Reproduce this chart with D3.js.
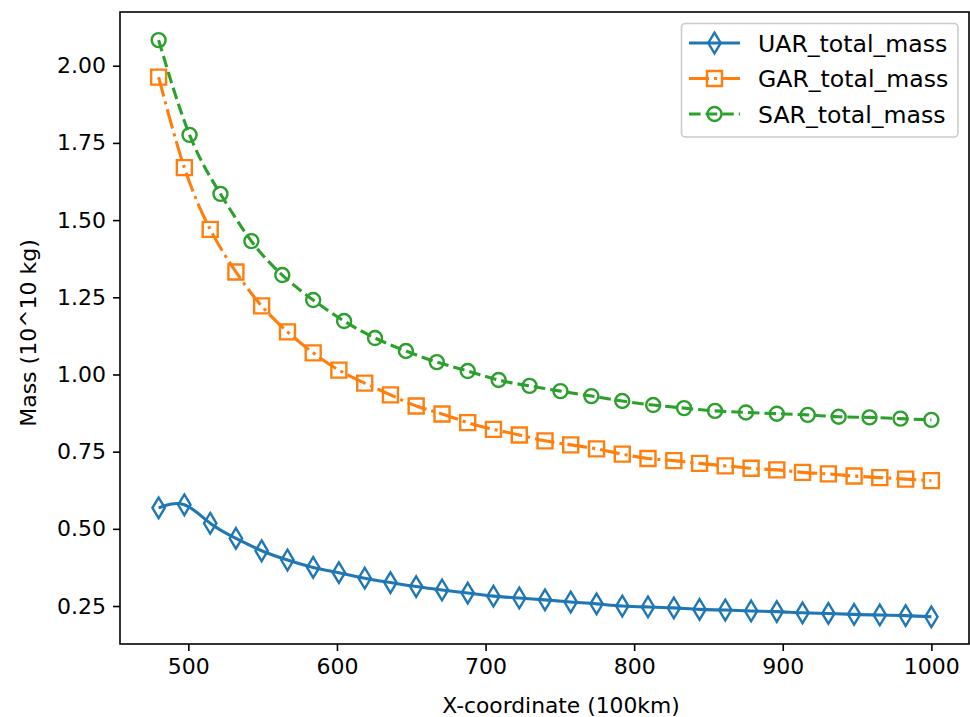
<!DOCTYPE html>
<html>
<head>
<meta charset="utf-8">
<script src="https://cdn.jsdelivr.net/npm/d3@7"></script>
<style>
  html, body { margin: 0; padding: 0; background: #fff; }
  svg { display: block; }
  text { font-family: "DejaVu Sans", sans-serif; fill: #000; }
</style>
</head>
<body>
<svg id="chart" width="970" height="717"></svg>
<script>
// ---- data ----
const xUG = [480, 497.3, 514.7, 532, 549.3, 566.7, 584, 601.3, 618.7, 636, 653.3, 670.7, 688, 705.3, 722.7, 740,
             757.3, 774.7, 792, 809.3, 826.7, 844, 861.3, 878.7, 896, 913.3, 930.7, 948, 965.3, 982.7, 1000];
const xS = [480, 500.8, 521.6, 542.4, 563.2, 584, 604.8, 625.6, 646.4, 667.2, 688, 708.8, 729.6, 750.4, 771.2, 792,
            812.8, 833.6, 854.4, 875.2, 896, 916.8, 937.6, 958.4, 979.2, 1000];
const uarMass = [0.568, 0.578, 0.518, 0.469, 0.429, 0.399, 0.375, 0.358, 0.340, 0.326, 0.313, 0.302, 0.292, 0.282,
                 0.276, 0.270, 0.263, 0.257, 0.250, 0.247, 0.244, 0.239, 0.237, 0.234, 0.232, 0.228, 0.226, 0.223,
                 0.221, 0.219, 0.215];
const garMass = [1.963, 1.670, 1.470, 1.332, 1.222, 1.138, 1.070, 1.014, 0.972, 0.934, 0.898, 0.872, 0.844, 0.822,
                 0.804, 0.785, 0.772, 0.759, 0.742, 0.728, 0.721, 0.712, 0.704, 0.696, 0.691, 0.683, 0.678, 0.671,
                 0.666, 0.661, 0.656];
const sarMass = [2.083, 1.776, 1.585, 1.432, 1.322, 1.241, 1.173, 1.118, 1.076, 1.040, 1.011, 0.982, 0.963, 0.946,
                 0.930, 0.914, 0.901, 0.891, 0.882, 0.877, 0.873, 0.869, 0.863, 0.861, 0.857, 0.853];
const seriesNames = ["UAR_total_mass", "GAR_total_mass", "SAR_total_mass"];
const xTicks = [500, 600, 700, 800, 900, 1000];
const yTicks = [0.25, 0.50, 0.75, 1.00, 1.25, 1.50, 1.75, 2.00];
const xLabel = "X-coordinate (100km)";
const yLabel = "Mass (10^10 kg)";

// ---- layout ----
const L = 120, R = 970, T = 12, B = 644;
const svg = d3.select("#chart");
const x = d3.scaleLinear().domain([454, 1026]).range([L, R]);
const y = d3.scaleLinear().domain([0.127, 2.174]).range([B, T]);

const colors = ["#1f77b4", "#ff7f0e", "#2ca02c"];
const dashes = [null, "20,5,3.1,5", "11.6,5"];
const lw = 3.1;
const mw = 2.4;

const series = [
  { name: seriesNames[0], xs: xUG, ys: uarMass, color: colors[0], dash: dashes[0], marker: "diamond" },
  { name: seriesNames[1], xs: xUG, ys: garMass, color: colors[1], dash: dashes[1], marker: "square" },
  { name: seriesNames[2], xs: xS, ys: sarMass, color: colors[2], dash: dashes[2], marker: "circle" }
];

function markerPath(type) {
  if (type === "diamond") return "M0,-10.3L6.2,0L0,10.3L-6.2,0Z";
  if (type === "square") return "M-7.5,-7.5L7.5,-7.5L7.5,7.5L-7.5,7.5Z";
  const p = d3.path(); p.arc(0, 0, 7, 0, 2 * Math.PI); p.closePath(); return p.toString();
}

svg.append("defs").append("clipPath").attr("id", "clip")
  .append("rect").attr("x", L).attr("y", T).attr("width", R - L).attr("height", B - T);

const line = d3.line().curve(d3.curveNatural);
const plot = svg.append("g").attr("clip-path", "url(#clip)");

series.forEach(s => {
  const pts = s.xs.map((xv, i) => [x(xv), y(s.ys[i])]);
  plot.append("path")
    .attr("d", line(pts))
    .attr("fill", "none")
    .attr("stroke", s.color)
    .attr("stroke-width", lw)
    .attr("stroke-dasharray", s.dash)
    .attr("stroke-linecap", "butt");
  plot.selectAll(null).data(pts).enter().append("path")
    .attr("transform", d => `translate(${d[0]},${d[1]})`)
    .attr("d", markerPath(s.marker))
    .attr("fill", "none")
    .attr("stroke", s.color)
    .attr("stroke-width", mw);
});

// ---- axes ----
const xAxis = svg.append("g").attr("transform", `translate(0,${B})`)
  .call(d3.axisBottom(x).tickValues(xTicks).tickSize(7).tickPadding(7).tickFormat(d3.format("d")));
const yAxis = svg.append("g").attr("transform", `translate(${L},0)`)
  .call(d3.axisLeft(y).tickValues(yTicks).tickSize(7).tickPadding(7).tickFormat(d3.format(".2f")));
[xAxis, yAxis].forEach(g => {
  g.select(".domain").remove();
  g.selectAll(".tick line").attr("stroke", "#000").attr("stroke-width", 1.6);
  g.selectAll(".tick text").attr("font-family", "DejaVu Sans").attr("font-size", 22).attr("fill", "#000");
});

svg.append("rect").attr("x", L).attr("y", T).attr("width", R - L - 1).attr("height", B - T)
  .attr("fill", "none").attr("stroke", "#000").attr("stroke-width", 1.6);

svg.append("text").attr("x", 561).attr("y", 713).attr("text-anchor", "middle")
  .attr("font-size", 21.8).text(xLabel);
svg.append("text").attr("transform", "translate(36,333) rotate(-90)").attr("text-anchor", "middle")
  .attr("font-size", 22).text(yLabel);

// ---- legend ----
const lg = svg.append("g");
lg.append("rect").attr("x", 681.5).attr("y", 23.5).attr("width", 276.5).attr("height", 113.5)
  .attr("rx", 4).attr("fill", "#fff").attr("fill-opacity", 0.8)
  .attr("stroke", "#cccccc").attr("stroke-width", 1.6);
series.forEach((s, i) => {
  const cy = 43 + i * 35.5;
  lg.append("line").attr("x1", 689).attr("x2", 740).attr("y1", cy).attr("y2", cy)
    .attr("stroke", s.color).attr("stroke-width", lw).attr("stroke-dasharray", s.dash);
  lg.append("path").attr("transform", `translate(714.5,${cy})`).attr("d", markerPath(s.marker))
    .attr("fill", "none").attr("stroke", s.color).attr("stroke-width", mw);
  lg.append("text").attr("x", 758).attr("y", cy + 8.5).attr("font-size", 23.6).text(s.name);
});
</script>
</body>
</html>
